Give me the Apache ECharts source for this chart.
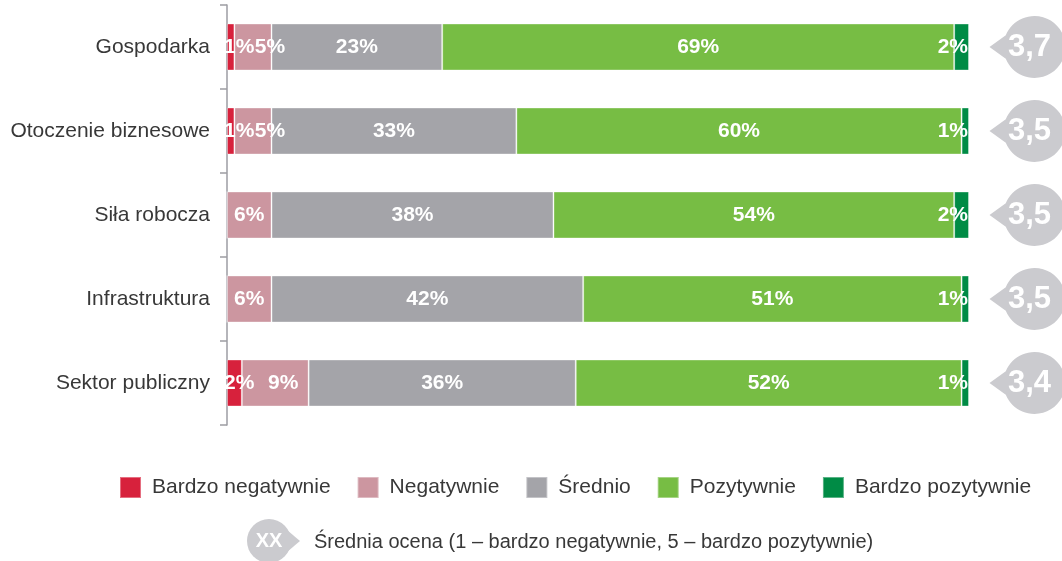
<!DOCTYPE html>
<html>
<head>
<meta charset="utf-8">
<script src="https://cdn.jsdelivr.net/npm/echarts@6/dist/echarts.min.js"></script>
<style>
html,body{margin:0;padding:0;background:#fff;}
#chart{width:1062px;height:561px;}
</style>
</head>
<body>
<div id="chart"></div>
<script>
const categories = ['Gospodarka', 'Otoczenie biznesowe', 'Siła robocza', 'Infrastruktura', 'Sektor publiczny'];
const seriesNames = ['Bardzo negatywnie', 'Negatywnie', 'Średnio', 'Pozytywnie', 'Bardzo pozytywnie'];
const bardzoNegatywnie = [1, 1, 0, 0, 2];
const negatywnie = [5, 5, 6, 6, 9];
const srednio = [23, 33, 38, 42, 36];
const pozytywnie = [69, 60, 54, 51, 52];
const bardzoPozytywnie = [2, 1, 2, 1, 1];
const srednia = [3.7, 3.5, 3.5, 3.5, 3.4];
const sredniaLabel = 'Średnia ocena (1 – bardzo negatywnie, 5 – bardzo pozytywnie)';

const colors = ['#d7213c', '#cc96a0', '#a4a4a9', '#77bd44', '#008b45'];
const FONT = 'Liberation Sans, Arial, sans-serif';

const chart = echarts.init(document.getElementById('chart'));

const pctFmt = p => (p.value > 0 ? p.value + '%' : '');
const baseLabel = {
  show: true, color: '#fff', fontFamily: FONT, fontSize: 21, fontWeight: 'bold',
  formatter: pctFmt
};

const valueSets = [bardzoNegatywnie, negatywnie, srednio, pozytywnie, bardzoPozytywnie];
const barSeries = valueSets.map((vals, s) => {
  let label = Object.assign({}, baseLabel, { position: 'inside' });
  let labelLayout = undefined;
  if (s === 0) label = Object.assign({}, baseLabel, { position: 'insideLeft', distance: -3 });
  // push the "Negatywnie" label right when a "Bardzo negatywnie" label sits next to it
  if (s === 1) labelLayout = p => {
    const i = p.dataIndex;
    if (!(bardzoNegatywnie[i] > 0)) return {};
    return { dx: negatywnie[i] <= 5 ? 17 : 8 };
  };
  if (s === 4) label = Object.assign({}, baseLabel, { position: 'insideRight', distance: 1 });
  const ser = {
    name: seriesNames[s], type: 'bar', stack: 'total', barWidth: 47,
    xAxisIndex: 0, yAxisIndex: 0,
    itemStyle: { color: colors[s], borderColor: 'rgba(255,255,255,0.35)', borderWidth: 1 },
    label: label,
    data: vals, z: 2
  };
  if (labelLayout) ser.labelLayout = labelLayout;
  return ser;
});

// speech-bubble: circle (center 45,31 r 31) + left pointer, drawn with beziers
const bubblePath = 'path://M76,31 C76,48.12 62.12,62 45,62 C27.88,62 14,48.12 14,31 C14,13.88 27.88,0 45,0 C62.12,0 76,13.88 76,31 Z M0,31 L18,18 L18,44 Z';

const option = {
  animation: false,
  textStyle: { fontFamily: FONT },
  grid: [
    { left: 227, right: 93, top: 5, height: 420 },
    { left: 993, width: 76, top: 5, height: 420 }
  ],
  xAxis: [
    { type: 'value', gridIndex: 0, min: 0, max: 100, show: false },
    { type: 'category', gridIndex: 1, data: ['avg'], show: false }
  ],
  yAxis: [
    {
      type: 'category', gridIndex: 0, data: categories, inverse: true,
      axisLine: { show: true, lineStyle: { color: '#9d9da3', width: 1.5 } },
      axisTick: { show: true, length: 7, lineStyle: { color: '#9d9da3', width: 1.5 } },
      axisLabel: { color: '#383838', fontSize: 21, fontFamily: FONT, margin: 17 }
    },
    { type: 'category', gridIndex: 1, data: categories, inverse: true, show: false }
  ],
  legend: {
    data: seriesNames, left: 119, top: 476, icon: 'rect', padding: 0,
    itemWidth: 21, itemHeight: 21, itemGap: 26,
    textStyle: { color: '#383838', fontSize: 21, fontFamily: FONT, padding: [0, 0, 0, 6] },
    selectedMode: false
  },
  series: barSeries.concat([{
    name: 'Średnia', type: 'scatter', xAxisIndex: 1, yAxisIndex: 1,
    symbol: bubblePath, symbolSize: [76, 62], symbolKeepAspect: false,
    itemStyle: { color: '#cbcbcf', opacity: 1 },
    label: {
      show: true, position: 'inside', color: '#fff', fontSize: 31, fontWeight: 'bold', fontFamily: FONT,
      offset: [2, 0],
      formatter: p => p.value[2].toFixed(1).replace('.', ',')
    },
    data: srednia.map((v, i) => ['avg', categories[i], v]),
    z: 3
  }]),
  graphic: [
    { type: 'circle', shape: { cx: 269, cy: 541, r: 22 }, style: { fill: '#cbcbcf' } },
    { type: 'polygon', shape: { points: [[287, 530], [300, 541], [287, 552]] }, style: { fill: '#cbcbcf' } },
    { type: 'text', x: 269, y: 541, style: { text: 'XX', fill: '#fff', font: 'bold 20px ' + FONT, align: 'center', verticalAlign: 'middle' } },
    { type: 'text', x: 314, y: 542, style: { text: sredniaLabel, fill: '#383838', font: '20px ' + FONT, align: 'left', verticalAlign: 'middle' } }
  ]
};
chart.setOption(option);
</script>
</body>
</html>
